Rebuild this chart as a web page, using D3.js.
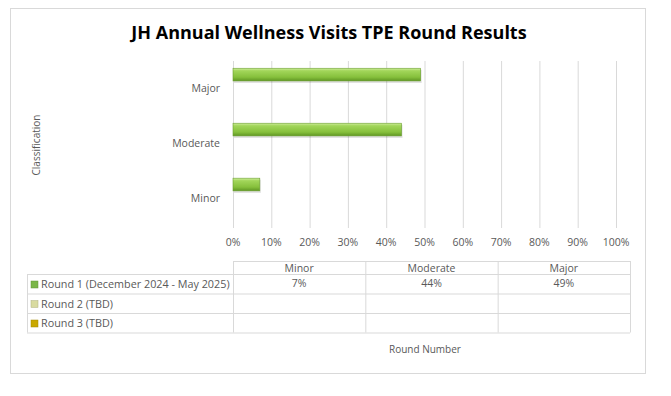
<!DOCTYPE html>
<html>
<head>
<meta charset="utf-8">
<script src="https://cdn.jsdelivr.net/npm/d3@7"></script>
<style>
  body { margin: 0; background: #fff; }
  text { font-family: "Open Sans", "Noto Sans", sans-serif; }
</style>
</head>
<body>
<svg></svg>
<script>
// chart data
var categories = ["Major", "Moderate", "Minor"]
var tableCols = ["Minor", "Moderate", "Major"]
var seriesNames = ["Round 1 (December 2024 - May 2025)", "Round 2 (TBD)", "Round 3 (TBD)"]
var seriesColors = ["#7ab648", "#d9dba0", "#c9a800"]
var round1 = {Minor: 0.07, Moderate: 0.44, Major: 0.49}
var round2 = {}
var round3 = {}
var xTicks = [0, 0.1, 0.2, 0.3, 0.4, 0.5, 0.6, 0.7, 0.8, 0.9, 1.0]

var seriesValues = [round1, round2, round3]

var dimensions = ({
    width: 671,
    height: 396
})

var svg = d3.select("svg")
    .attr("width", dimensions.width)
    .attr("height", dimensions.height)

var defs = svg.append("defs")
var grad = defs.append("linearGradient")
    .attr("id", "barGrad")
    .attr("x1", 0).attr("y1", 0).attr("x2", 0).attr("y2", 1)
grad.append("stop").attr("offset", "0%").attr("stop-color", "#d2eea0")
grad.append("stop").attr("offset", "20%").attr("stop-color", "#a2d65a")
grad.append("stop").attr("offset", "70%").attr("stop-color", "#86c03c")
grad.append("stop").attr("offset", "100%").attr("stop-color", "#5f9624")

// outer frame
svg.append("rect")
    .attr("x", 10.5).attr("y", 8.5)
    .attr("width", 635).attr("height", 365)
    .attr("fill", "#fff")
    .attr("stroke", "#d9d9d9")

svg.append("text")
    .attr("x", 329).attr("y", 39)
    .attr("text-anchor", "middle")
    .attr("font-size", 18)
    .attr("font-weight", "bold")
    .attr("fill", "#000")
    .text("JH Annual Wellness Visits TPE Round Results")

var x = d3.scaleLinear().domain([0, 1]).range([233, 616])

var y = d3.scaleBand()
    .domain(categories)
    .range([60, 226])
    .paddingInner(0.28)
    .paddingOuter(0.15)

var ySeries = d3.scaleBand()
    .domain(d3.range(seriesNames.length))
    .range([0, y.bandwidth()])

// gridlines
svg.append("g")
    .selectAll("line")
    .data(xTicks)
    .enter()
    .append("line")
    .attr("x1", d => x(d) + 0.5).attr("x2", d => x(d) + 0.5)
    .attr("y1", 61).attr("y2", 228)
    .attr("stroke", "#d9d9d9")

// x tick labels
svg.append("g")
    .selectAll("text")
    .data(xTicks)
    .enter()
    .append("text")
    .attr("x", d => x(d))
    .attr("y", 246)
    .attr("text-anchor", "middle")
    .attr("font-size", 10.5)
    .attr("fill", "#595959")
    .text(d => d3.format(".0%")(d))

// category labels
svg.append("g")
    .selectAll("text")
    .data(categories)
    .enter()
    .append("text")
    .attr("x", 220)
    .attr("y", d => y(d) + y.bandwidth() / 2 + 4)
    .attr("text-anchor", "end")
    .attr("font-size", 10.5)
    .attr("fill", "#595959")
    .text(d => d)

svg.append("text")
    .attr("transform", "translate(40,145) rotate(-90)")
    .attr("text-anchor", "middle")
    .attr("font-size", 10)
    .attr("fill", "#595959")
    .text("Classification")

// bars
var barData = []
seriesValues.forEach((s, i) => {
    categories.forEach(c => {
        if (s[c] != null) barData.push({series: i, cat: c, value: s[c]})
    })
})

var bars = svg.append("g")
    .selectAll("g")
    .data(barData)
    .enter()
    .append("g")

bars.append("rect")
    .attr("x", x(0) + 1)
    .attr("y", d => y(d.cat) + ySeries(d.series) + 1.5)
    .attr("width", d => x(d.value) - x(0))
    .attr("height", ySeries.bandwidth())
    .attr("fill", "#000")
    .attr("opacity", 0.12)

bars.append("rect")
    .attr("x", x(0))
    .attr("y", d => y(d.cat) + ySeries(d.series))
    .attr("width", d => x(d.value) - x(0))
    .attr("height", ySeries.bandwidth() - 0.5)
    .attr("fill", "url(#barGrad)")
    .attr("stroke", "#6a9f2e")
    .attr("stroke-width", 0.6)

// data table
var colX = d3.scaleBand().domain(tableCols).range([233, 630])
var headTop = 261, headH = 13, rowH = 19.5
var tableLeft = 27, tableRight = 630
var tbl = svg.append("g")

var rowsBottom = headTop + headH + rowH * seriesNames.length

// horizontal lines
tbl.append("line")
    .attr("x1", 233).attr("x2", tableRight)
    .attr("y1", headTop + 0.5).attr("y2", headTop + 0.5)
    .attr("stroke", "#d9d9d9")
d3.range(seriesNames.length + 1).forEach(i => {
    tbl.append("line")
        .attr("x1", tableLeft).attr("x2", tableRight)
        .attr("y1", headTop + headH + rowH * i + 0.5)
        .attr("y2", headTop + headH + rowH * i + 0.5)
        .attr("stroke", "#d9d9d9")
})
// vertical lines
tbl.append("line")
    .attr("x1", tableLeft + 0.5).attr("x2", tableLeft + 0.5)
    .attr("y1", headTop + headH).attr("y2", rowsBottom)
    .attr("stroke", "#d9d9d9")
tableCols.concat([null]).forEach(c => {
    var xx = c == null ? tableRight : colX(c)
    tbl.append("line")
        .attr("x1", xx + 0.5).attr("x2", xx + 0.5)
        .attr("y1", headTop).attr("y2", rowsBottom)
        .attr("stroke", "#d9d9d9")
})

tbl.selectAll(".head")
    .data(tableCols)
    .enter()
    .append("text")
    .attr("x", d => colX(d) + colX.bandwidth() / 2)
    .attr("y", headTop + 10.5)
    .attr("text-anchor", "middle")
    .attr("font-size", 10.5)
    .attr("fill", "#595959")
    .text(d => d)

seriesNames.forEach((name, i) => {
    var ry = headTop + headH + rowH * i
    tbl.append("rect")
        .attr("x", 31).attr("y", ry + 7)
        .attr("width", 7).attr("height", 7)
        .attr("fill", seriesColors[i])
        .attr("stroke", d3.color(seriesColors[i]).darker(0.6))
        .attr("stroke-width", 0.5)
    tbl.append("text")
        .attr("x", 41).attr("y", ry + 14)
        .attr("font-size", 10.8)
        .attr("fill", "#595959")
        .text(name)
    tableCols.forEach(c => {
        var v = seriesValues[i][c]
        if (v == null) return
        tbl.append("text")
            .attr("x", colX(c) + colX.bandwidth() / 2)
            .attr("y", ry + 13)
            .attr("text-anchor", "middle")
            .attr("font-size", 10.5)
            .attr("fill", "#595959")
            .text(d3.format(".0%")(v))
    })
})

svg.append("text")
    .attr("x", 425).attr("y", 353)
    .attr("text-anchor", "middle")
    .attr("font-size", 10)
    .attr("fill", "#595959")
    .text("Round Number")
</script>
</body>
</html>
